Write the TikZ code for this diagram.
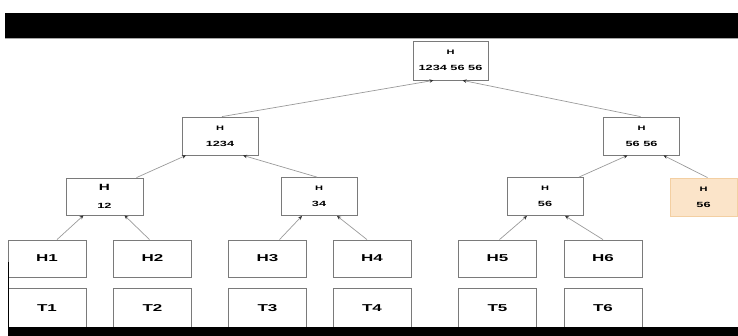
\documentclass[tikz,border=0pt]{standalone}
\usepackage{fontspec}
\setmainfont{Liberation Sans}
\newfontfamily\widesans[FakeStretch=1.7]{Liberation Sans}
\usetikzlibrary{arrows.meta}
\definecolor{boxline}{HTML}{7A7A7A}
\definecolor{linkline}{HTML}{9A9A9A}
\definecolor{hlfill}{HTML}{FBE4C9}
\definecolor{hlline}{HTML}{F3CFA2}
\newcommand{\hashlabel}[1]{{\fontsize{6.5}{8}\selectfont H}\\[4pt]{\fontsize{7.5}{9}\selectfont #1}}
\tikzset{
  x=1pt, y=-1pt,
  hashbox/.style={draw=boxline, line width=0.8pt, fill=white, minimum width=76pt, minimum height=38pt,
    inner sep=0pt, align=center, font=\widesans\bfseries},
  leafbox/.style={draw=boxline, line width=0.8pt, fill=white, minimum width=78pt, minimum height=37pt,
    inner sep=0pt, font=\widesans\bfseries\fontsize{10}{12}\selectfont},
  hlbox/.style={hashbox, fill=hlfill, draw=hlline},
  link/.style={draw=linkline, line width=0.7pt, -{Stealth[length=4pt,width=3.5pt,black!80]}},
}
\begin{document}
\begin{tikzpicture}
\useasboundingbox (0,0) rectangle (738,336);
% top and bottom bars
\fill[black] (5,13) rectangle (738,38);
\draw[black!35, line width=0.8pt] (5,38.5) -- (738,38.5);

% root
\node[hashbox, minimum width=75pt, minimum height=39pt] (root) at (450.5,60.5) {\hashlabel{1234 56 56}};
% second level
\node[hashbox] (hA) at (220,136) {\hashlabel{1234}};
\node[hashbox] (hB) at (641.5,136) {\hashlabel{56 56}};
% third level
\node[hashbox, minimum width=77pt, minimum height=37pt] (h12) at (104.5,196.5)
  {{\fontsize{9}{10}\selectfont H}\\[6pt]{\fontsize{7.5}{9}\selectfont 12}};
\node[hashbox] (h34) at (319,196.5) {\hashlabel{34}};
\node[hashbox] (h56) at (545,196.5) {\hashlabel{56}};
\node[hlbox, minimum width=67pt] (h56b) at (703.5,197) {\hashlabel{56}};
% leaf hashes
\node[leafbox] (H1) at (47,258.5) {H1};
\node[leafbox] (H2) at (152.5,258.5) {H2};
\node[leafbox] (H3) at (267.5,258.5) {H3};
\node[leafbox] (H4) at (372,258.5) {H4};
\node[leafbox] (H5) at (497.5,258.5) {H5};
\node[leafbox] (H6) at (603,258.5) {H6};
% transactions
\node[leafbox, minimum height=40pt] (T1) at (47,308) {T1};
\node[leafbox, minimum height=40pt] (T2) at (152.5,308) {T2};
\node[leafbox, minimum height=40pt] (T3) at (267.5,308) {T3};
\node[leafbox, minimum height=40pt] (T4) at (372,308) {T4};
\node[leafbox, minimum height=40pt] (T5) at (497.5,308) {T5};
\node[leafbox, minimum height=40pt] (T6) at (603,308) {T6};

% links from children to parents
\draw[link] ([xshift=10pt]H1.north) -- ([xshift=-21pt]h12.south);
\draw[link] ([xshift=-3pt]H2.north) -- ([xshift=20pt]h12.south);
\draw[link] ([xshift=12pt]H3.north) -- ([xshift=-17pt]h34.south);
\draw[link] ([xshift=-5pt]H4.north) -- ([xshift=18pt]h34.south);
\draw[link] ([xshift=2pt]H5.north) -- ([xshift=-18pt]h56.south);
\draw[link] ([xshift=0pt]H6.north) -- ([xshift=20pt]h56.south);
\draw[link] ([xshift=32pt]h12.north) -- ([xshift=-34pt]hA.south);
\draw[link] ([xshift=-2pt]h34.north) -- ([xshift=23pt]hA.south);
\draw[link] ([xshift=34pt]h56.north) -- ([xshift=-14pt]hB.south);
\draw[link] ([xshift=4pt]h56b.north) -- ([xshift=22pt]hB.south);
\draw[link] ([xshift=2pt]hA.north) -- ([xshift=-17pt]root.south);
\draw[link] ([xshift=-1pt]hB.north) -- ([xshift=12pt]root.south);

% dark edge along the left and the bottom bar
\draw[black, line width=1pt] (8.5,262) -- (8.5,327);
\fill[black] (8,327) rectangle (738,336);
\end{tikzpicture}
\end{document}
